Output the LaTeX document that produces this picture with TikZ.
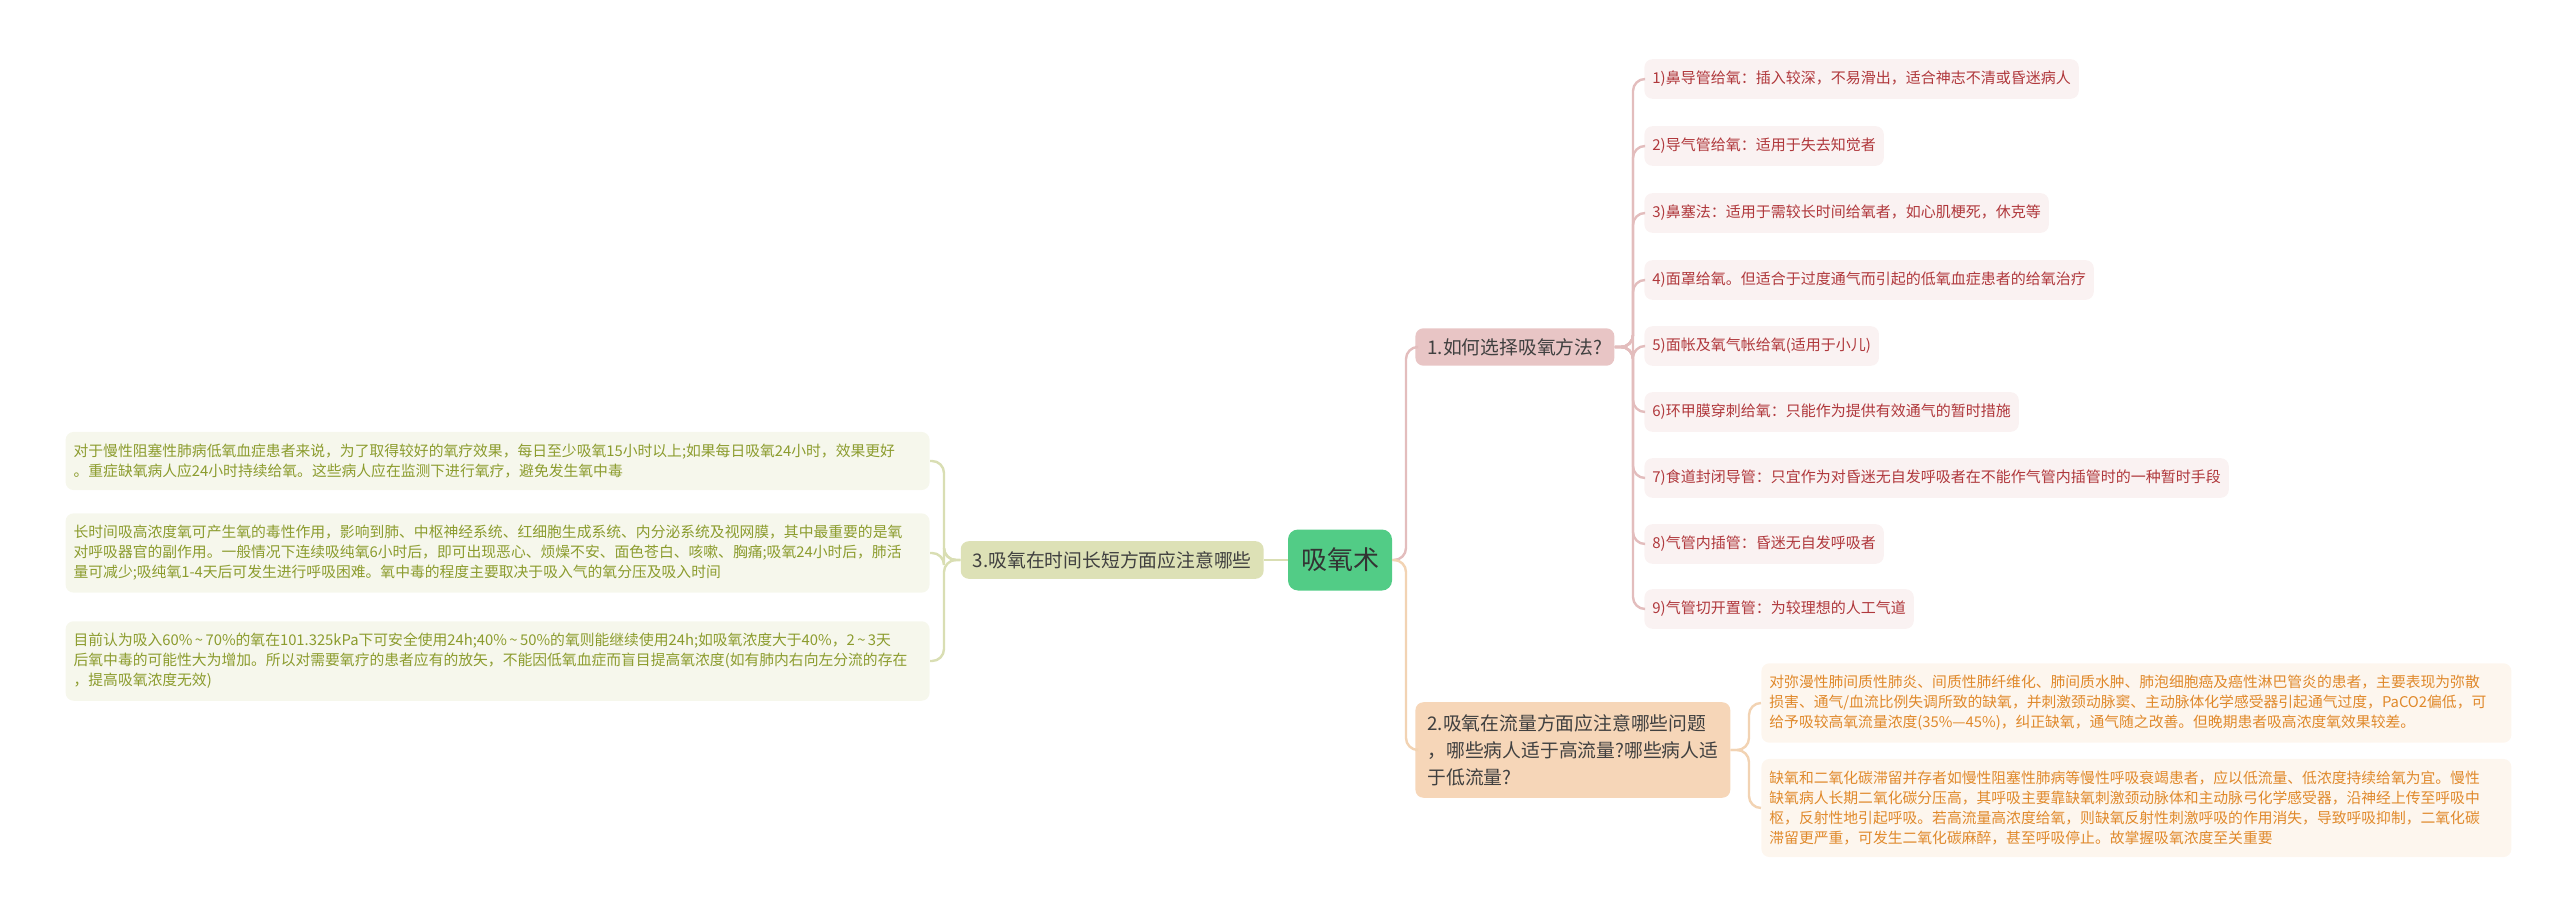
\documentclass[tikz,border=0pt]{standalone}
\usepackage{fontspec}
\setmainfont{Noto Sans CJK SC}
\usetikzlibrary{positioning}
\definecolor{rootfill}{HTML}{52CC86}
\definecolor{redline}{HTML}{E3BDBD}
\definecolor{redfill}{HTML}{E8C5C5}
\definecolor{redleaf}{HTML}{FAF2F2}
\definecolor{redtext}{HTML}{B0383C}
\definecolor{orgline}{HTML}{F2D3B3}
\definecolor{orgfill}{HTML}{F6D6B8}
\definecolor{orgleaf}{HTML}{FDF6EE}
\definecolor{orgtext}{HTML}{E0892B}
\definecolor{grnline}{HTML}{D9DEB3}
\definecolor{grnfill}{HTML}{DDE1B6}
\definecolor{grnleaf}{HTML}{F6F7EC}
\definecolor{grntext}{HTML}{8C9C2E}

\begin{document}
\begin{tikzpicture}[x=0.5pt,y=-0.5pt,
% Root and branch style
root/.style={fill=rootfill,rounded corners=5pt,minimum width=52pt,
	minimum height=30.5pt,font=\fontsize{13}{15}\selectfont,text=black!80},
branch/.style={rounded corners=4pt,inner xsep=6pt,inner ysep=5pt,
	font=\fontsize{9.4}{13.5}\selectfont,text=black!75,align=left},
% Leaf style
leaf/.style={rounded corners=4pt,inner xsep=4pt,inner ysep=6pt,
	align=left,anchor=west},
rleaf/.style={leaf,fill=redleaf,text=redtext,minimum height=17.5pt,
	font=\fontsize{7.5}{9}\selectfont},
oleaf/.style={leaf,fill=orgleaf,text=orgtext,text width=367pt,
	font=\fontsize{7.4}{10}\selectfont},
gleaf/.style={leaf,fill=grnleaf,text=grntext,text width=424pt,
	font=\fontsize{7.4}{10}\selectfont},
% Connector style
link/.style={line width=1.2pt,rounded corners=6pt},
]
\useasboundingbox (0,0) rectangle (2560,915);
%% Root and branches
\node (root) [root] at (1340,560) {吸氧术};
\node (a1) [branch,fill=redfill,anchor=west] at (1415,347) {1.如何选择吸氧方法?};
\node (a2) [branch,fill=orgfill,anchor=west,inner ysep=6pt] at (1415,750)
	{2.吸氧在流量方面应注意哪些问题\\，哪些病人适于高流量?哪些病人适\\于低流量?};
\node (a3) [branch,fill=grnfill,anchor=east] at (1264,560) {3.吸氧在时间长短方面应注意哪些};
%% Leaves of branch 1
\node (b11) [rleaf] at (1644,79) {1)鼻导管给氧：插入较深，不易滑出，适合神志不清或昏迷病人};
\node (b12) [rleaf] at (1644,146) {2)导气管给氧：适用于失去知觉者};
\node (b13) [rleaf] at (1644,213) {3)鼻塞法：适用于需较长时间给氧者，如心肌梗死，休克等};
\node (b14) [rleaf] at (1644,280) {4)面罩给氧。但适合于过度通气而引起的低氧血症患者的给氧治疗};
\node (b15) [rleaf] at (1644,346) {5)面帐及氧气帐给氧(适用于小儿)};
\node (b16) [rleaf] at (1644,412) {6)环甲膜穿刺给氧：只能作为提供有效通气的暂时措施};
\node (b17) [rleaf] at (1644,478) {7)食道封闭导管：只宜作为对昏迷无自发呼吸者在不能作气管内插管时的一种暂时手段};
\node (b18) [rleaf] at (1644,544) {8)气管内插管：昏迷无自发呼吸者};
\node (b19) [rleaf] at (1644,609) {9)气管切开置管：为较理想的人工气道};
%% Leaves of branch 2
\node (b21) [oleaf] at (1761,703) {对弥漫性肺间质性肺炎、间质性肺纤维化、肺间质水肿、肺泡细胞癌及癌性淋巴管炎的患者，主要表现为弥散\\损害、通气/血流比例失调所致的缺氧，并刺激颈动脉窦、主动脉体化学感受器引起通气过度，PaCO2偏低，可\\给予吸较高氧流量浓度(35\%—45\%)，纠正缺氧，通气随之改善。但晚期患者吸高浓度氧效果较差。};
\node (b22) [oleaf] at (1761,808) {缺氧和二氧化碳滞留并存者如慢性阻塞性肺病等慢性呼吸衰竭患者，应以低流量、低浓度持续给氧为宜。慢性\\缺氧病人长期二氧化碳分压高，其呼吸主要靠缺氧刺激颈动脉体和主动脉弓化学感受器，沿神经上传至呼吸中\\枢，反射性地引起呼吸。若高流量高浓度给氧，则缺氧反射性刺激呼吸的作用消失，导致呼吸抑制，二氧化碳\\滞留更严重，可发生二氧化碳麻醉，甚至呼吸停止。故掌握吸氧浓度至关重要};
%% Leaves of branch 3
\node (b31) [gleaf,anchor=east] at (930,461) {对于慢性阻塞性肺病低氧血症患者来说，为了取得较好的氧疗效果，每日至少吸氧15小时以上;如果每日吸氧24小时，效果更好\\。重症缺氧病人应24小时持续给氧。这些病人应在监测下进行氧疗，避免发生氧中毒};
\node (b32) [gleaf,anchor=east] at (930,553) {长时间吸高浓度氧可产生氧的毒性作用，影响到肺、中枢神经系统、红细胞生成系统、内分泌系统及视网膜，其中最重要的是氧\\对呼吸器官的副作用。一般情况下连续吸纯氧6小时后，即可出现恶心、烦燥不安、面色苍白、咳嗽、胸痛;吸氧24小时后，肺活\\量可减少;吸纯氧1-4天后可发生进行呼吸困难。氧中毒的程度主要取决于吸入气的氧分压及吸入时间};
\node (b33) [gleaf,anchor=east] at (930,661) {目前认为吸入60\%\,\textasciitilde\,70\%的氧在101.325kPa下可安全使用24h;40\%\,\textasciitilde\,50\%的氧则能继续使用24h;如吸氧浓度大于40\%，2\,\textasciitilde\,3天\\后氧中毒的可能性大为增加。所以对需要氧疗的患者应有的放矢，不能因低氧血症而盲目提高氧浓度(如有肺内右向左分流的存在\\，提高吸氧浓度无效)};
%% Connectors
\draw [link,draw=redline] (root.east) -- (1406,560) |- (a1.west);
\draw [link,draw=orgline] (root.east) -- (1406,560) |- (a2.west);
\draw [link,draw=grnline] (root.west) -- (a3.east);
\foreach \n in {b11,b12,b13,b14,b15,b16,b17,b18,b19}
	\draw [link,draw=redline] (a1.east) -- (1633,347) |- (\n.west);
\foreach \n in {b21,b22}
	\draw [link,draw=orgline] (a2.east) -- (1749,750) |- (\n.west);
\foreach \n in {b31,b32,b33}
	\draw [link,draw=grnline] (a3.west) -- (944,560) |- (\n.east);
\end{tikzpicture}
\end{document}
